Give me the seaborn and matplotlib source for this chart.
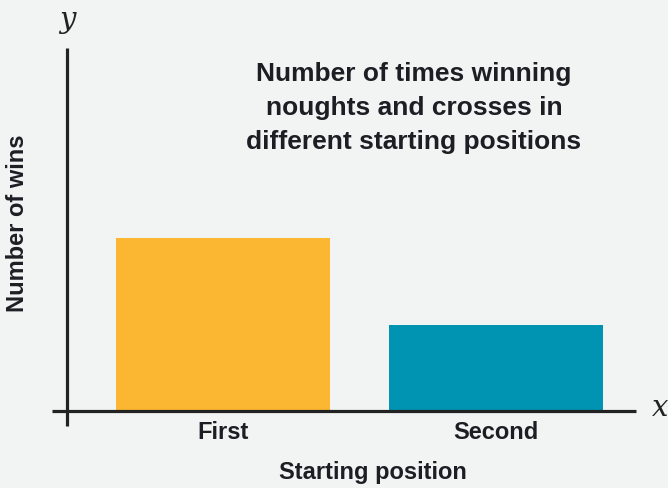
import pandas as pd
import seaborn as sns
import matplotlib.pyplot as plt

positions = ['First', 'Second']
wins = [2, 1]
bar_colors = ['#FBB731', '#0093B2']

title = 'Number of times winning\nnoughts and crosses in\ndifferent starting positions'

df = pd.DataFrame({'position': positions, 'wins': wins})

sns.set_theme(style='white')
plt.rcParams['font.family'] = ['Liberation Sans', 'DejaVu Sans']

W, H = 668, 488
bg = '#F2F3F3'
ink = '#1b1f24'
fig = plt.figure(figsize=(W / 100, H / 100), dpi=100, facecolor=bg)

# axes box in pixels: x-axis line at y=411, y-axis line at x=67
left, right, top, base = 52, 636, 48, 411
ax = fig.add_axes([left / W, (H - base) / H, (right - left) / W, (base - top) / H])
ax.set_facecolor(bg)

sns.barplot(data=df, x='position', y='wins', hue='position', palette=bar_colors,
            width=0.784, saturation=1, legend=False, linewidth=0, ax=ax)

px_x = 273.0   # pixels per category step
px_y = 86.5    # pixels per win
ax.set_xlim((left - 223) / px_x, (right - 223) / px_x)
ax.set_ylim(0, (base - top) / px_y)
for s in ax.spines.values():
    s.set_visible(False)

x0 = (67 - 223) / px_x
ax.plot([x0, x0], [-(426 - base) / px_y, (base - top) / px_y], color='#222', lw=2.3,
        clip_on=False, zorder=5, solid_capstyle='butt')
ax.plot([(left - 223) / px_x, (right - 223) / px_x], [0, 0], color='#222', lw=2.3,
        clip_on=False, zorder=5, solid_capstyle='butt')

ax.set_yticks([])
ax.tick_params(axis='x', length=0, pad=7, labelsize=17, labelcolor=ink)
for lab in ax.get_xticklabels():
    lab.set_fontweight('bold')
ax.set_xlabel('')
ax.set_ylabel('')

fig.text(373 / W, 1 - 472 / H, 'Starting position', ha='center', va='center',
         fontsize=17, fontweight='bold', color=ink)
fig.text(18 / W, 1 - 223 / H, 'Number of wins', ha='center', va='center', rotation=90,
         fontsize=17, fontweight='bold', color=ink)
fig.text(414 / W, 1 - 108 / H, title, ha='center', va='center', multialignment='center',
         fontsize=19, fontweight='bold', color=ink, linespacing=1.55)
fig.text(67 / W, 1 - 20 / H, 'y', ha='center', va='center', fontsize=21,
         style='italic', family='DejaVu Serif', color='#222')
fig.text(660 / W, 1 - 408 / H, 'x', ha='center', va='center', fontsize=21,
         style='italic', family='DejaVu Serif', color='#222')

fig.savefig('out.png', dpi=100, facecolor=bg)
